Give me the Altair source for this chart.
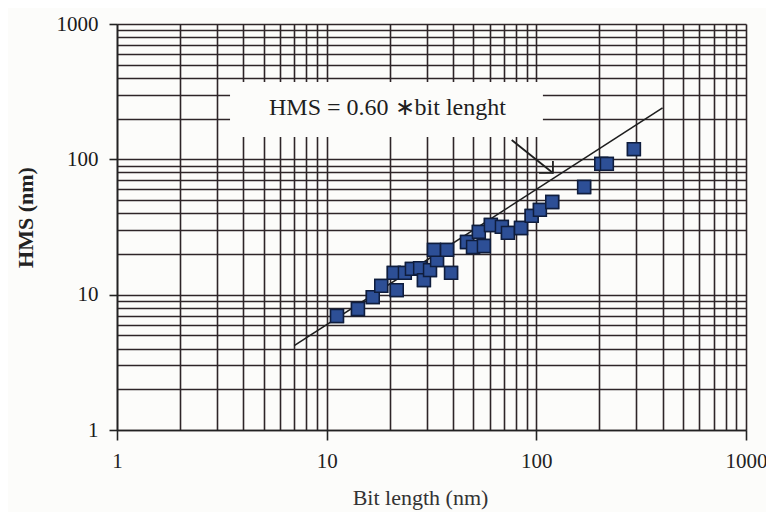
import altair as alt
import pandas as pd

bit_length = [11.2, 14.1, 16.6, 18.2, 20.9, 21.6, 23.6, 25.5, 27.9, 29.1,
              31.1, 33.6, 32.5, 37.5, 39.2, 46.7, 49.9, 56.2, 53.2, 60.7,
              68.5, 73.2, 84.5, 95.0, 104, 119, 169, 204, 217, 292]
hms = [6.96, 7.84, 9.6, 11.6, 14.5, 10.8, 14.5, 15.5, 15.7, 12.8,
       15.2, 18.0, 21.4, 21.4, 14.5, 24.5, 22.5, 22.9, 29.1, 32.7,
       31.7, 28.6, 31.1, 38.2, 42.3, 48.4, 62.5, 92.5, 92.5, 119]

# fit: HMS = 0.60 * bit length
fit_x = [7, 400]
fit_coef = 0.60
fit_y = [fit_coef * v for v in fit_x]

# annotation (data coordinates)
box_x = [3.46, 107.5]
box_y = [146.5, 373]
label_text = ["HMS = 0.60 \u2217bit lenght"]
label_pos = [19.5, 240]
arrow_x = [76.3, 120]
arrow_y = [139, 79.3]
head_x = [103, 120, 120]
head_y = [79.3, 79.3, 97]

grid_vals = [m * 10 ** e for e in range(3) for m in range(1, 10)] + [1000]
majors = "indexof([1,10,100,1000], datum.value) >= 0"

FONT = "Liberation Serif"
GRID = "#2e2528"

def xaxis():
    return alt.Axis(values=grid_vals, format="d", labelExpr=majors + " ? datum.label : ''",
                    labelOverlap=False, labelFlush=False, grid=True, gridColor=GRID,
                    gridWidth=1.6, gridOpacity=1, domainColor="#222", domainWidth=1.6,
                    tickColor="#222", tickWidth=1.6,
                    tickSize={"condition": {"test": majors, "value": 10}, "value": 0},
                    labelFont=FONT, labelFontSize=21, labelColor="#222", labelPadding=10,
                    title="Bit length (nm)", titleFont=FONT, titleFontSize=22,
                    titleFontWeight="normal", titleColor="#333", titleX=303, titleY=67,
                    titleBaseline="middle")

def yaxis():
    return alt.Axis(values=grid_vals, format="d", labelExpr=majors + " ? datum.label : ''",
                    labelOverlap=False, labelFlush=False, grid=True, gridColor=GRID,
                    gridWidth=1.6, gridOpacity=1, domainColor="#222", domainWidth=1.6,
                    tickColor="#222", tickWidth=1.6,
                    tickSize={"condition": {"test": majors, "value": 8}, "value": 0},
                    labelFont=FONT, labelFontSize=21, labelColor="#1a1a1a", labelPadding=11,
                    title="HMS (nm)", titleFont=FONT, titleFontSize=22,
                    titleFontWeight="bold", titleColor="#222", titleX=-92, titleY=193,
                    titleBaseline="middle", titleAlign="center")

xs = alt.Scale(type="log", domain=[1, 1000], nice=False)
ys = alt.Scale(type="log", domain=[1, 1000], nice=False)

pts_df = pd.DataFrame({"x": bit_length, "y": hms})
fit_df = pd.DataFrame({"x": fit_x, "y": fit_y})
box_df = pd.DataFrame({"x": [box_x[0]], "x2": [box_x[1]], "y": [box_y[0]], "y2": [box_y[1]]})
txt_df = pd.DataFrame({"x": [label_pos[0]], "y": [label_pos[1]], "t": label_text})
arr_df = pd.DataFrame({"x": arrow_x, "y": arrow_y, "o": [0, 1]})
head_df = pd.DataFrame({"x": head_x, "y": head_y, "o": [0, 1, 2]})

points = alt.Chart(pts_df).mark_square(size=165, filled=True, color="#2d4f96",
                                       stroke="#0f1d3d", strokeWidth=1.5, opacity=1).encode(
    x=alt.X("x:Q", scale=xs, axis=xaxis()),
    y=alt.Y("y:Q", scale=ys, axis=yaxis()),
)

box = alt.Chart(box_df).mark_rect(color="#fcfcfa").encode(
    x=alt.X("x:Q", scale=xs), x2="x2", y=alt.Y("y:Q", scale=ys), y2="y2")

fit = alt.Chart(fit_df).mark_line(color="#1e1e1e", strokeWidth=1.6).encode(
    x=alt.X("x:Q", scale=xs), y=alt.Y("y:Q", scale=ys))

arrow = alt.Chart(arr_df).mark_line(color="#1e1e1e", strokeWidth=1.8).encode(
    x=alt.X("x:Q", scale=xs), y=alt.Y("y:Q", scale=ys), order="o:O")

head = alt.Chart(head_df).mark_line(color="#1e1e1e", strokeWidth=1.8).encode(
    x=alt.X("x:Q", scale=xs), y=alt.Y("y:Q", scale=ys), order="o:O")

text = alt.Chart(txt_df).mark_text(font=FONT, fontSize=24, color="#1e1e1e",
                                   align="center", baseline="middle").encode(
    x=alt.X("x:Q", scale=xs), y=alt.Y("y:Q", scale=ys), text="t:N")

chart = alt.layer(points, box, fit, arrow, head, text, points).properties(
    width=629, height=406,
    padding={"left": 109, "top": 16, "right": 20, "bottom": 82},
    autosize="none",
    background="#fcfcfa",
).configure_view(stroke=None)

chart.save("out.html", embed_options={"renderer": "svg", "actions": False})
